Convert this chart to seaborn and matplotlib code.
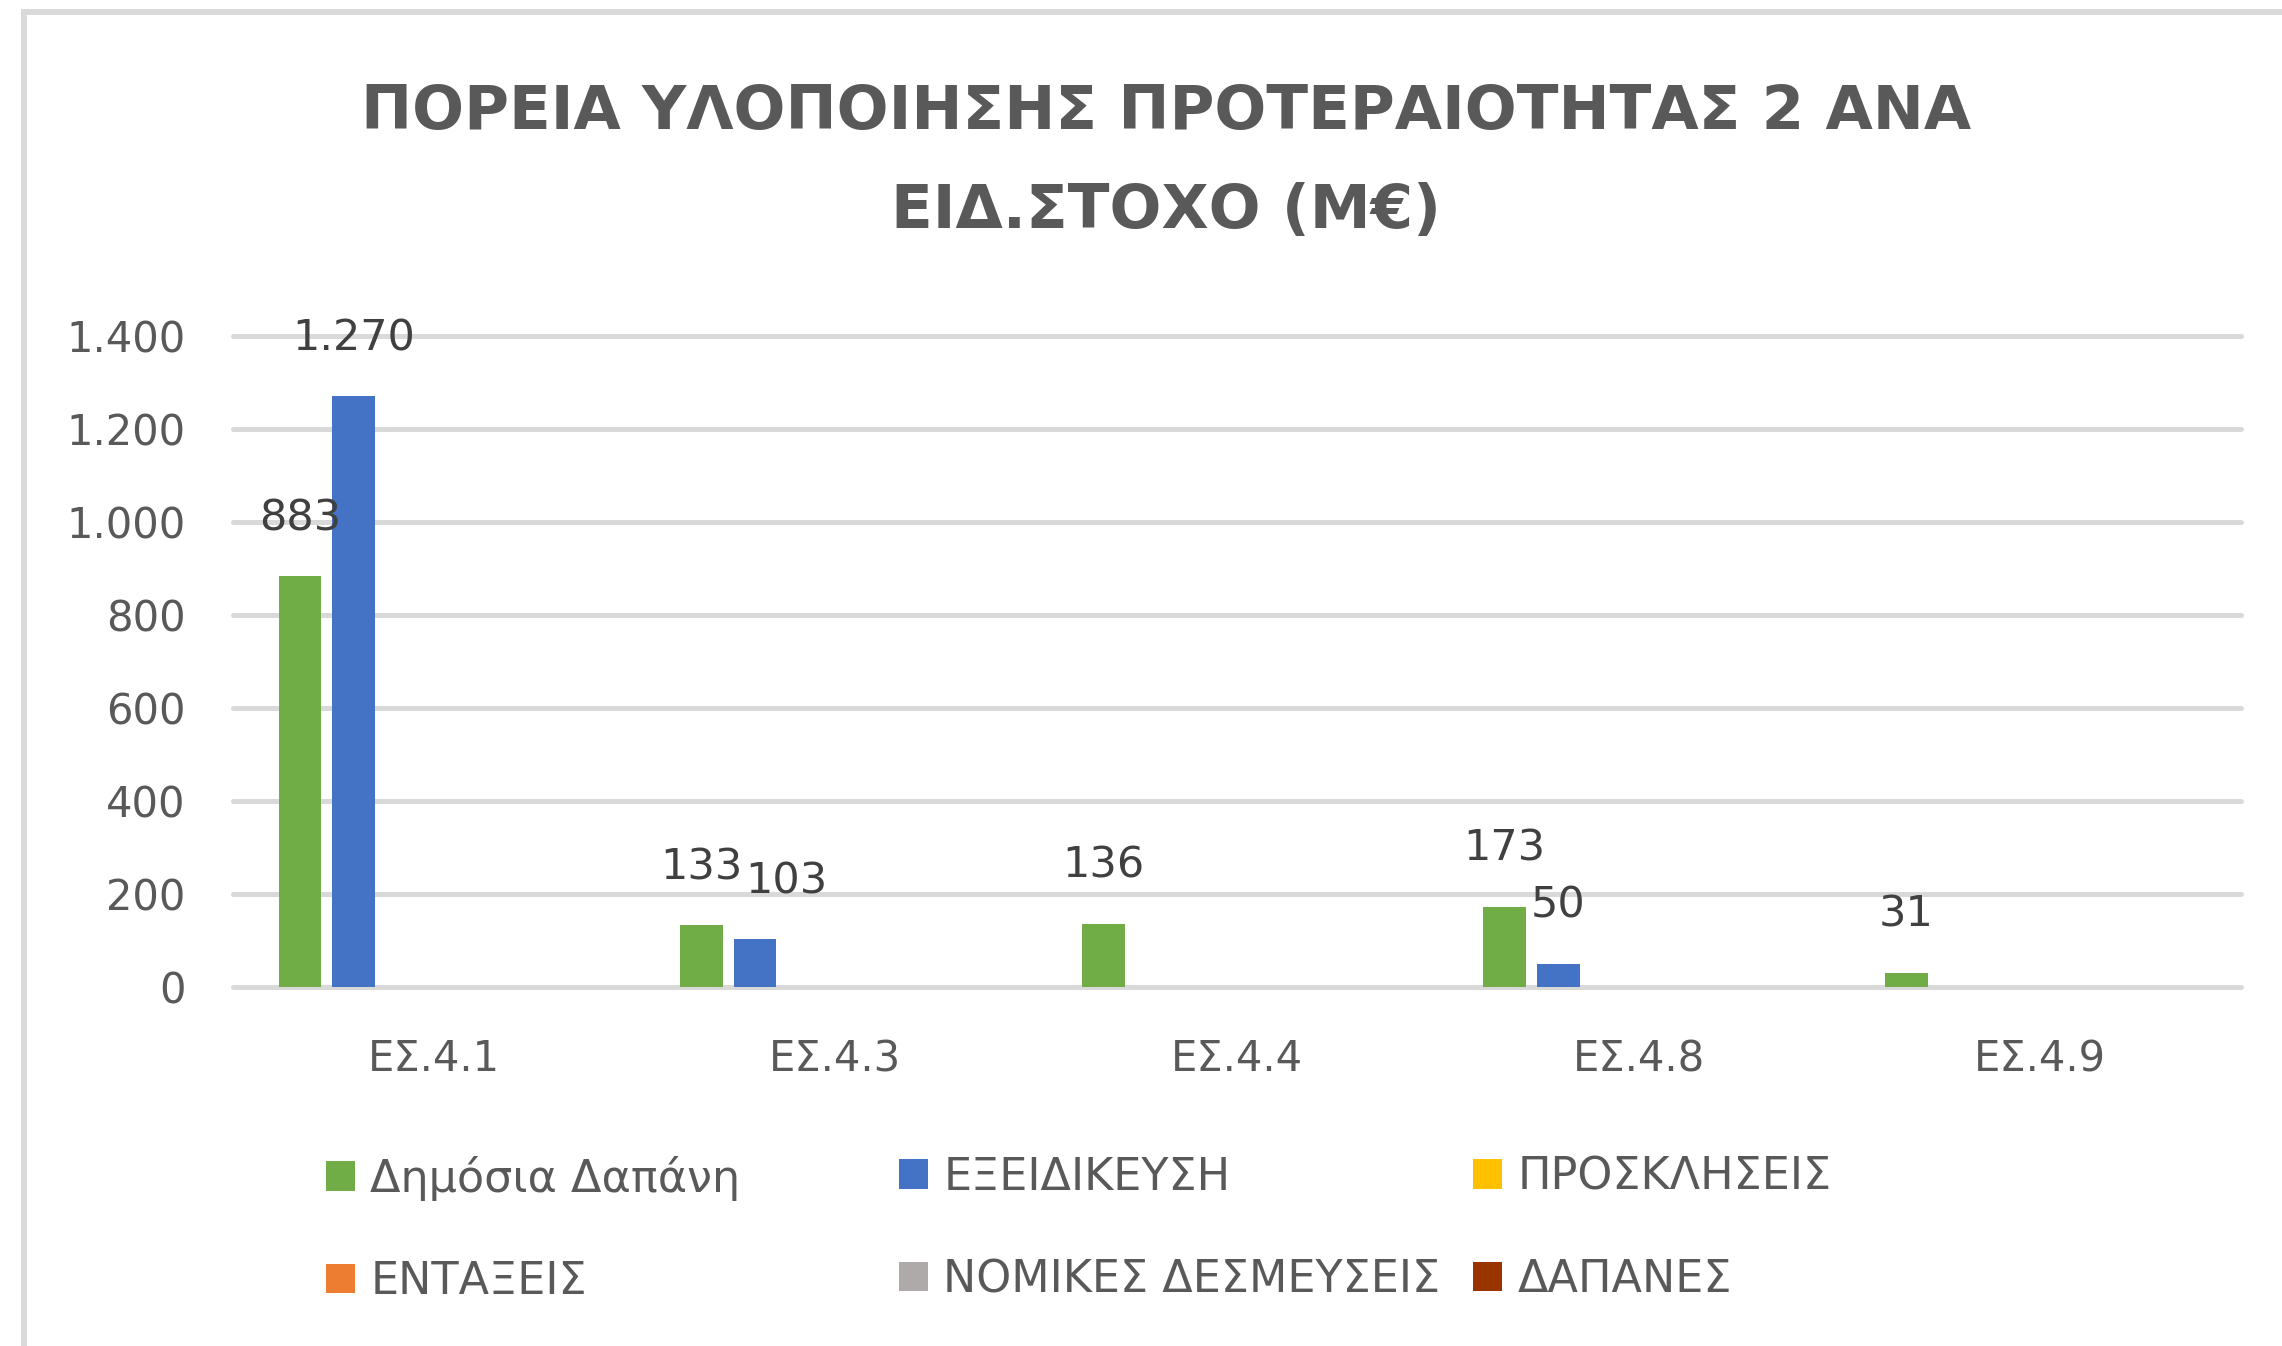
import numpy as np
import pandas as pd
import matplotlib
matplotlib.use("Agg")
import matplotlib.pyplot as plt
import seaborn as sns
from matplotlib.patches import Patch, Rectangle

# ---- data ----
categories = ["ΕΣ.4.1", "ΕΣ.4.3", "ΕΣ.4.4", "ΕΣ.4.8", "ΕΣ.4.9"]
series_names = ["Δημόσια Δαπάνη", "ΕΞΕΙΔΙΚΕΥΣΗ", "ΠΡΟΣΚΛΗΣΕΙΣ",
                "ΕΝΤΑΞΕΙΣ", "ΝΟΜΙΚΕΣ ΔΕΣΜΕΥΣΕΙΣ", "ΔΑΠΑΝΕΣ"]
dimosia_dapani = [883, 133, 136, 173, 31]
exeidikeysi = [1270, 103, None, 50, None]
prosklhseis = [None, None, None, None, None]
entaxeis = [None, None, None, None, None]
nomikes = [None, None, None, None, None]
dapanes = [None, None, None, None, None]
yticks = [0, 200, 400, 600, 800, 1000, 1200, 1400]
title_lines = ["ΠΟΡΕΙΑ ΥΛΟΠΟΙΗΣΗΣ ΠΡΟΤΕΡΑΙΟΤΗΤΑΣ 2 ΑΝΑ", "ΕΙΔ.ΣΤΟΧΟ (Μ€)"]

colors = ["#70AD47", "#4472C4", "#FFC000", "#ED7D31", "#AEAAAA", "#993300"]

all_vals = [dimosia_dapani, exeidikeysi, prosklhseis, entaxeis, nomikes, dapanes]
rows = []
for s, vals in zip(series_names, all_vals):
    for c, v in zip(categories, vals):
        rows.append({"cat": c, "series": s, "value": np.nan if v is None else float(v)})
df = pd.DataFrame(rows)

sns.set_theme(style="white")
plt.rcParams['font.family'] = ['DejaVu Sans']
TXT = "#595959"
GRID = "#D9D9D9"

W, H = 2282, 1346
fig = plt.figure(figsize=(W / 100, H / 100), dpi=100)
fig.patch.set_facecolor("white")

ax = fig.add_axes([233 / W, 1 - 987 / H, (2241 - 233) / W, (987 - 336) / H])
sns.barplot(data=df, x="cat", y="value", hue="series", order=categories,
            hue_order=series_names, palette=colors, saturation=1,
            width=0.8, gap=0.2, linewidth=0, errorbar=None, legend=False, ax=ax)

ax.set_xlim(-0.5, len(categories) - 0.5)
ax.set_ylim(0, 1400)
ax.set_yticks(yticks)
ax.set_yticklabels([f"{t:,}".replace(",", ".") for t in yticks])
ax.set_xlabel("")
ax.set_ylabel("")
for sp in ax.spines.values():
    sp.set_visible(False)
ax.grid(axis="y", color=GRID, linewidth=3.6)
ax.grid(axis="x", visible=False)
ax.set_axisbelow(True)
for gl in ax.get_ygridlines():
    gl.set_clip_on(False)
ax.tick_params(axis="y", length=0, pad=34, labelsize=30, labelcolor=TXT)
ax.tick_params(axis="x", length=0, pad=37, labelsize=30, labelcolor=TXT)

# data labels
nudge = {("ΕΣ.4.3", "ΕΞΕΙΔΙΚΕΥΣΗ"): 31}
for s, cont in zip(series_names, ax.containers):
    for bar in cont:
        h = bar.get_height()
        if not np.isfinite(h) or h <= 0:
            continue
        cx = bar.get_x() + bar.get_width() / 2
        cat = categories[int(round(cx))]
        dx = nudge.get((cat, s), 0)
        ax.annotate(f"{h:,.0f}".replace(",", "."), xy=(cx, h), xytext=(dx, 58),
                    textcoords="offset pixels", ha="center", va="center",
                    fontsize=31, color="#404040")

# title
fig.text(1166 / W, 1 - 113 / H, title_lines[0], ha="center", va="center",
         fontsize=44, fontweight="bold", color=TXT)
fig.text(1166 / W, 1 - 212 / H, title_lines[1], ha="center", va="center",
         fontsize=44, fontweight="bold", color=TXT)

# legend: three fixed-width columns, two rows each
col_x = [326, 899, 1473]
for col in range(3):
    idx = [col, col + 3]
    handles = [Patch(facecolor=colors[i], edgecolor="none") for i in idx]
    labels = [series_names[i] for i in idx]
    fig.legend(handles, labels, loc="upper left",
               bbox_to_anchor=(col_x[col] / W, 1 - 1156 / H),
               frameon=False, fontsize=32, labelcolor=TXT,
               handlelength=0.66, handleheight=0.66, handletextpad=0.34,
               labelspacing=1.33, borderpad=0, borderaxespad=0)

# chart-area border (left and top edges visible)
fig.add_artist(Rectangle((24 / W, -0.2), 2.0, 1.2 - 12 / H, fill=False,
                         edgecolor=GRID, linewidth=4.3, transform=fig.transFigure))

fig.savefig("out.png", dpi=100, facecolor="white")
